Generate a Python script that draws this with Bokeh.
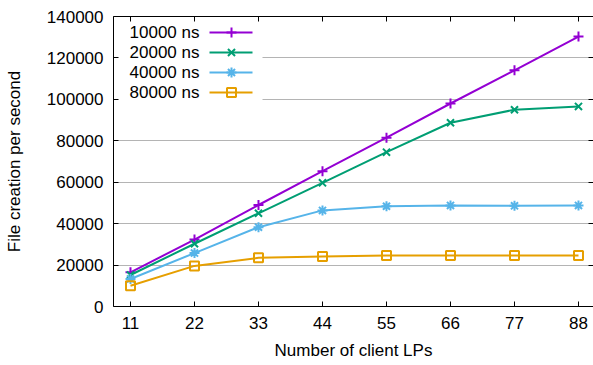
from bokeh.plotting import figure
from bokeh.models import (LinearAxis, FixedTicker, BasicTickFormatter, BoxAnnotation,
                          Range1d, ColumnDataSource, Grid)
from bokeh.core.properties import value
from bokeh.embed import file_html
from bokeh.resources import INLINE

# ---- data ----
clients = [11, 22, 33, 44, 55, 66, 77, 88]
s10000 = [16500, 32300, 49000, 65300, 81500, 98000, 114000, 130300]
s20000 = [15200, 30300, 45000, 59700, 74500, 88700, 95000, 96600]
s40000 = [13300, 25800, 38300, 46400, 48400, 48800, 48600, 48800]
s80000 = [10000, 19600, 23500, 24100, 24600, 24600, 24600, 24600]
series_labels = ["10000 ns", "20000 ns", "40000 ns", "80000 ns"]
y_ticks = [0, 20000, 40000, 60000, 80000, 100000, 120000, 140000]

colors = ["#9400D3", "#009E73", "#56B4E9", "#E69F00"]
markers = ["cross", "x", "asterisk", "square"]
series = [s10000, s20000, s40000, s80000]

FONT = "Liberation Sans"
W, H = 593, 365
BL, BR, BT, BB = 113, 0, 16, 59
x0, x1 = 8.08, 90.58
y0, y1 = 0, 140000

p = figure(width=W, height=H, output_backend="svg", toolbar_location=None,
           x_range=Range1d(x0, x1), y_range=Range1d(y0, y1),
           min_border_left=BL, min_border_right=BR, min_border_top=BT,
           min_border_bottom=BB, x_axis_location=None, y_axis_location=None)
p.outline_line_color = None
p.background_fill_color = "white"
p.border_fill_color = "white"

fw = W - BL - BR
fh = H - BT - BB


def sx(px):
    # frame-relative pixel to data x
    return x0 + px / fw * (x1 - x0)


def sy(py):
    # pixel from top of frame to data y
    return y1 - py / fh * (y1 - y0)


def style_axis(ax, labels=True, ticks=None):
    ax.axis_line_color = "black"
    ax.axis_line_width = 1
    ax.major_tick_line_color = "black"
    ax.major_tick_in = 5
    ax.major_tick_out = 0
    ax.minor_tick_line_color = None
    if labels:
        ax.major_label_text_font = FONT
        ax.major_label_text_font_size = "17px"
        ax.major_label_text_color = "black"
    else:
        ax.major_label_overrides = {t: "" for t in ticks}
        ax.major_label_text_font_size = "1px"
        ax.major_label_standoff = 0


xb = LinearAxis(ticker=FixedTicker(ticks=clients), axis_label="Number of client LPs")
style_axis(xb)
xb.major_label_standoff = 10
xb.axis_label_text_font = FONT
xb.axis_label_text_font_size = "17px"
xb.axis_label_text_font_style = "normal"
xb.axis_label_text_color = "black"
xb.axis_label_standoff = 9
p.add_layout(xb, "below")

xt = LinearAxis(ticker=FixedTicker(ticks=clients))
style_axis(xt, labels=False, ticks=clients)
p.add_layout(xt, "above")

yl = LinearAxis(ticker=FixedTicker(ticks=y_ticks),
                formatter=BasicTickFormatter(use_scientific=False),
                axis_label="File creation per second")
style_axis(yl)
yl.major_label_standoff = 10
yl.axis_label_text_font = FONT
yl.axis_label_text_font_size = "17px"
yl.axis_label_text_font_style = "normal"
yl.axis_label_text_color = "black"
yl.axis_label_standoff = 20
p.add_layout(yl, "left")

yr = LinearAxis(ticker=FixedTicker(ticks=y_ticks))
style_axis(yr, labels=False, ticks=y_ticks)
yr.axis_line_color = None
p.add_layout(yr, "right")

p.xgrid.visible = False
p.ygrid.visible = False
g = Grid(dimension=1, ticker=FixedTicker(ticks=y_ticks))
g.grid_line_color = "#b4b4b4"
g.grid_line_width = 1
p.add_layout(g, "center")

# white legend background hiding grid
box = BoxAnnotation(left=x0, right=sx(149), top=y1, bottom=sy(88),
                    fill_color="white", fill_alpha=1.0, line_color=None,
                    level="underlay")
p.add_layout(box)

for i, (lab, data, col, mk) in enumerate(zip(series_labels, series, colors, markers)):
    src = ColumnDataSource(dict(x=clients, y=data))
    p.line("x", "y", source=src, line_color=col, line_width=2)
    if mk == "square":
        p.scatter("x", "y", source=src, marker=mk, size=9, line_color=col,
                  fill_color=None, line_width=2)
    else:
        p.scatter("x", "y", source=src, marker=mk, size=10, line_color=col,
                  line_width=2)
    # legend entry (gnuplot style: text, then sample)
    ry = sy(16 + 20 * i)
    p.text(x=[sx(86)], y=[ry], text=[lab], text_font=value(FONT),
           text_font_size="17px", text_align="right", text_baseline="middle",
           text_color="black")
    p.line(x=[sx(96), sx(139)], y=[ry, ry], line_color=col, line_width=2)
    if mk == "square":
        p.scatter(x=[sx(118)], y=[ry], marker=mk, size=9, line_color=col,
                  fill_color=None, line_width=2)
    else:
        p.scatter(x=[sx(118)], y=[ry], marker=mk, size=10, line_color=col,
                  line_width=2)

open("out.html", "w").write(file_html(p, INLINE))
